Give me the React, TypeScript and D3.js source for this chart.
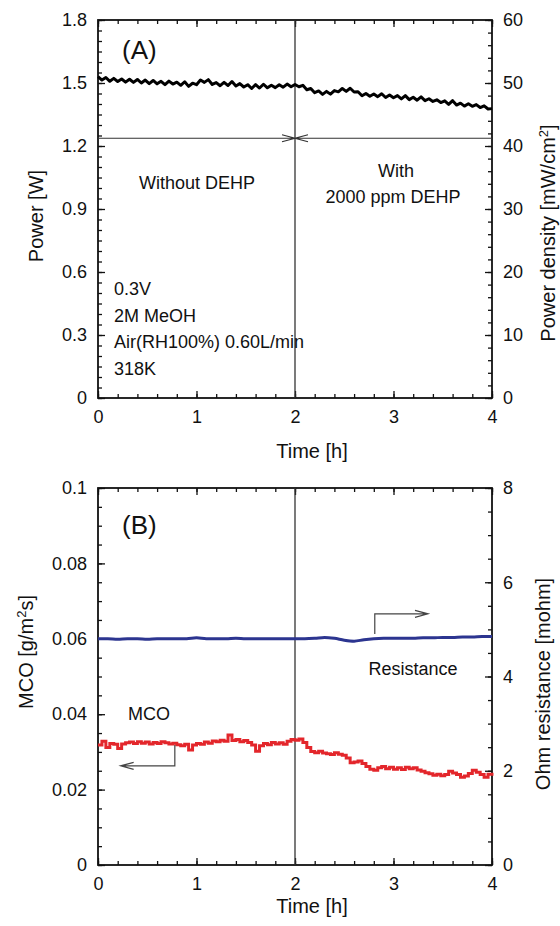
import React, { useEffect, useRef } from "react";
import * as d3 from "d3";

// sampling step of the logged power / MCO data (h)
const sampleStep = 0.04;

// panel A: cell power [W], one value every 0.04 h from 0 to 4 h
const powerW = [
  1.53, 1.514, 1.526, 1.508, 1.522, 1.507, 1.519, 1.504, 1.518, 1.503,
  1.517, 1.5, 1.514, 1.497, 1.512, 1.496, 1.508, 1.492, 1.509, 1.495,
  1.504, 1.489, 1.506, 1.484, 1.499, 1.492, 1.514, 1.503, 1.516, 1.493,
  1.502, 1.487, 1.503, 1.488, 1.507, 1.486, 1.497, 1.481, 1.492, 1.474,
  1.492, 1.476, 1.494, 1.477, 1.489, 1.478, 1.492, 1.48, 1.495, 1.482,
  1.493, 1.482, 1.489, 1.468, 1.474, 1.454, 1.462, 1.446, 1.46, 1.447,
  1.464, 1.458, 1.474, 1.46, 1.475, 1.457, 1.458, 1.439, 1.45, 1.437,
  1.448, 1.435, 1.449, 1.431, 1.443, 1.43, 1.44, 1.424, 1.44, 1.421,
  1.432, 1.418, 1.434, 1.416, 1.425, 1.412, 1.42, 1.407, 1.415, 1.398,
  1.416, 1.395, 1.404, 1.39, 1.401, 1.389, 1.397, 1.383, 1.391, 1.376,
  1.378
];

// panel B: methanol crossover [g/m2s], same time base
const mco = [
  0.0318, 0.0328, 0.0312, 0.0322, 0.032, 0.0309, 0.0321, 0.0324, 0.0326, 0.0322,
  0.0327, 0.0323, 0.0326, 0.0321, 0.0325, 0.0322, 0.0327, 0.0324, 0.0321, 0.0323,
  0.0319, 0.0316, 0.032, 0.0305, 0.0318, 0.0322, 0.032, 0.0326, 0.0323, 0.0329,
  0.0327, 0.0331, 0.0328, 0.0345, 0.033, 0.0333, 0.0327, 0.033, 0.0325, 0.0318,
  0.0302, 0.0316, 0.0322, 0.0319, 0.0325, 0.0321, 0.0324, 0.032, 0.0328, 0.0333,
  0.0331, 0.0334, 0.0325, 0.0312, 0.0301, 0.0298, 0.0302, 0.0297, 0.0295, 0.0293,
  0.0298, 0.0294, 0.0291, 0.0284, 0.0271, 0.0273, 0.0276, 0.0269, 0.0261, 0.0254,
  0.0251, 0.0258, 0.0261, 0.0255, 0.0259, 0.0254, 0.0258, 0.0253, 0.0259, 0.0255,
  0.0258, 0.0252, 0.0249, 0.0245, 0.0242, 0.0238, 0.0241, 0.0237, 0.024, 0.0249,
  0.0244, 0.024, 0.0233, 0.0236, 0.0243, 0.0251, 0.0246, 0.024, 0.0233, 0.0241,
  0.0237
];

// panel B: ohmic resistance [mohm], one value every 0.1 h
const resistanceStep = 0.1;
const resistance = [
  4.8, 4.8, 4.79, 4.8, 4.8, 4.79, 4.8, 4.8, 4.8, 4.8,
  4.82, 4.8, 4.8, 4.8, 4.81, 4.8, 4.8, 4.8, 4.8, 4.8,
  4.8, 4.8, 4.81, 4.83, 4.81, 4.77, 4.75, 4.78, 4.8, 4.81,
  4.81, 4.81, 4.81, 4.82, 4.82, 4.83, 4.83, 4.84, 4.84, 4.85,
  4.85
];

// axes
const timeTicks = [0, 1, 2, 3, 4];
const powerTicks = [0, 0.3, 0.6, 0.9, 1.2, 1.5, 1.8];
const densityTicks = [0, 10, 20, 30, 40, 50, 60];
const mcoTicks = [0, 0.02, 0.04, 0.06, 0.08, 0.1];
const resistanceTicks = [0, 2, 4, 6, 8];

// annotations
const dehpTime = 2;
const dividerPower = 1.237;
const resistancePointer = [[2.81, 4.9], [2.81, 5.33], [3.35, 5.33]];
const mcoPointer = [[0.78, 0.0318], [0.78, 0.0263], [0.23, 0.0263]];
const conditions = ["0.3V", "2M MeOH", "Air(RH100%) 0.60L/min", "318K"];

const FONT = "'Liberation Sans', Arial, Helvetica, sans-serif";
const INK = "#111";

function App() {
  const ref = useRef(null);

  useEffect(() => {
    document.body.style.margin = "0";
    const svg = d3.select(ref.current);
    svg.selectAll("*").remove();

    const x = d3.scaleLinear().domain([0, 4]).range([98, 492]);
    const yPower = d3.scaleLinear().domain([0, 1.8]).range([398, 20]);
    const yDensity = d3.scaleLinear().domain([0, 60]).range([398, 20]);
    const yMco = d3.scaleLinear().domain([0, 0.1]).range([865, 488]);
    const yRes = d3.scaleLinear().domain([0, 8]).range([865, 488]);

    const fmt = d => String(+(+d).toFixed(3));

    const axis = (make, scale, majors, minors, tx, ty, labels, pad) => {
      const g = svg.append("g").attr("transform", `translate(${tx},${ty})`);
      g.append("g").call(
        make(scale).tickValues(minors).tickSize(-4).tickSizeOuter(0).tickFormat(() => "")
      );
      g.append("g").call(
        make(scale)
          .tickValues(majors)
          .tickSize(-7)
          .tickSizeOuter(0)
          .tickPadding(pad)
          .tickFormat(labels ? fmt : () => "")
      );
      g.selectAll(".domain").remove();
      g.selectAll("line").attr("stroke", INK).attr("stroke-width", 1.3);
      g.selectAll("text")
        .attr("fill", INK)
        .style("font-family", FONT)
        .style("font-size", "18px");
    };

    const panel = (yL, yR, top, bottom, lMaj, lMin, rMaj, rMin) => {
      axis(d3.axisBottom, x, timeTicks, d3.range(0, 4.001, 0.2), 0, bottom, true, 12);
      axis(d3.axisTop, x, timeTicks, d3.range(0, 4.001, 0.2), 0, top, false, 0);
      axis(d3.axisLeft, yL, lMaj, lMin, 98, 0, true, 11);
      axis(d3.axisRight, yR, rMaj, rMin, 492, 0, true, 11);
      svg
        .append("rect")
        .attr("x", 98)
        .attr("y", top)
        .attr("width", 394)
        .attr("height", bottom - top)
        .attr("fill", "none")
        .attr("stroke", INK)
        .attr("stroke-width", 1.8);
      svg
        .append("line")
        .attr("x1", x(dehpTime))
        .attr("x2", x(dehpTime))
        .attr("y1", top)
        .attr("y2", bottom)
        .attr("stroke", "#333")
        .attr("stroke-width", 1.3);
    };

    panel(yPower, yDensity, 20, 398,
      powerTicks, d3.range(0, 1.8001, 0.05), densityTicks, d3.range(0, 60.001, 2));
    panel(yMco, yRes, 488, 865,
      mcoTicks, d3.range(0, 0.1001, 0.005), resistanceTicks, d3.range(0, 8.001, 0.5));

    // series
    const powerLine = d3
      .line()
      .x((d, i) => x(i * sampleStep))
      .y(d => yPower(d));
    svg
      .append("path")
      .datum(powerW)
      .attr("d", powerLine)
      .attr("fill", "none")
      .attr("stroke", "#000")
      .attr("stroke-width", 3)
      .attr("stroke-linejoin", "round");

    const resLine = d3
      .line()
      .curve(d3.curveMonotoneX)
      .x((d, i) => x(i * resistanceStep))
      .y(d => yRes(d));
    svg
      .append("path")
      .datum(resistance)
      .attr("d", resLine)
      .attr("fill", "none")
      .attr("stroke", "#2c3590")
      .attr("stroke-width", 3);

    const mcoLine = d3
      .line()
      .curve(d3.curveStepAfter)
      .x((d, i) => x(i * sampleStep))
      .y(d => yMco(d));
    svg
      .append("path")
      .datum(mco)
      .attr("d", mcoLine)
      .attr("fill", "none")
      .attr("stroke", "#e3262b")
      .attr("stroke-width", 3);

    // divider with arrows meeting at the DEHP switch
    const dy = yPower(dividerPower);
    const xs = x(dehpTime);
    svg
      .append("path")
      .attr(
        "d",
        `M${x(0)},${dy}H${x(4)}` +
          `M${xs - 13},${dy - 3.5}L${xs},${dy}L${xs - 13},${dy + 3.5}` +
          `M${xs + 13},${dy - 3.5}L${xs},${dy}L${xs + 13},${dy + 3.5}`
      )
      .attr("fill", "none")
      .attr("stroke", "#333")
      .attr("stroke-width", 1.2);

    const pointer = (pts, yS) => {
      const p = pts.map(([t, v]) => [x(t), yS(v)]);
      const [ex, ey] = p[p.length - 1];
      const dir = Math.sign(ex - p[p.length - 2][0]);
      svg
        .append("path")
        .attr(
          "d",
          d3.line()(p) +
            `M${ex - dir * 13},${ey - 3.5}L${ex},${ey}L${ex - dir * 13},${ey + 3.5}`
        )
        .attr("fill", "none")
        .attr("stroke", "#444")
        .attr("stroke-width", 1.2);
    };
    pointer(resistancePointer, yRes);
    pointer(mcoPointer, yMco);

    // texts
    const text = (tx, ty, str, size, anchor = "start") =>
      svg
        .append("text")
        .attr("x", tx)
        .attr("y", ty)
        .attr("text-anchor", anchor)
        .attr("fill", INK)
        .style("font-family", FONT)
        .style("font-size", `${size}px`)
        .text(str);

    text(122, 59, "(A)", 26);
    text(122, 534, "(B)", 26);
    text(197, 189, "Without DEHP", 18, "middle");
    text(396, 177, "With", 18, "middle");
    text(393, 203, "2000 ppm DEHP", 18, "middle");
    conditions.forEach((c, i) => text(114, 295 + i * 26.6, c, 18));
    text(413, 675, "Resistance", 18, "middle");
    text(128, 720, "MCO", 18);
    text(312, 458, "Time [h]", 20, "middle");
    text(312, 913, "Time [h]", 20, "middle");

    const vTitle = (tx, ty, parts) => {
      const t = svg
        .append("text")
        .attr("transform", `translate(${tx},${ty}) rotate(-90)`)
        .attr("text-anchor", "middle")
        .attr("fill", INK)
        .style("font-family", FONT)
        .style("font-size", "20px");
      parts.forEach(([s, sup]) => {
        const sp = t.append("tspan").text(s);
        if (sup) sp.attr("baseline-shift", "super").style("font-size", "13px");
      });
    };
    vTitle(43, 216, [["Power [W]"]]);
    vTitle(555, 233, [["Power density [mW/cm"], ["2", true], ["]"]]);
    vTitle(33, 652, [["MCO [g/m"], ["2", true], ["s]"]]);
    vTitle(550, 684, [["Ohm resistance [mohm]"]]);
  }, []);

  return (
    <svg
      ref={ref}
      width={560}
      height={926}
      style={{ position: "absolute", left: 0, top: 0, background: "#fff" }}
    />
  );
}

export default App;
